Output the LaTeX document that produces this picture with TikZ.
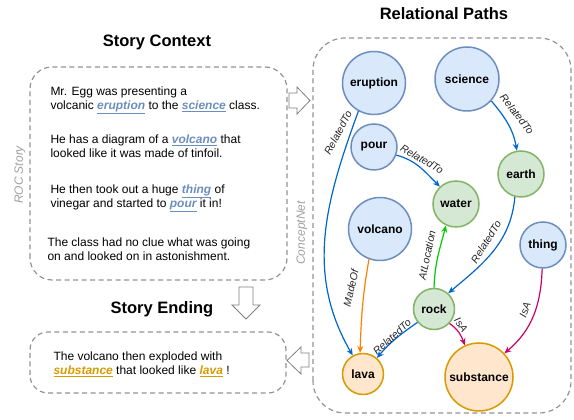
\documentclass[tikz,border=0pt]{standalone}
\usepackage{fontspec}
\setmainfont{Liberation Sans}
\usetikzlibrary{arrows.meta}

\definecolor{cblue}{HTML}{DAE8FC}
\definecolor{dblue}{HTML}{6C8EBF}
\definecolor{cgreen}{HTML}{D5E8D4}
\definecolor{dgreen}{HTML}{82B366}
\definecolor{corange}{HTML}{FFE6CC}
\definecolor{dorange}{HTML}{D79B00}
\definecolor{eblue}{HTML}{0066CC}
\definecolor{egreen}{HTML}{00CC00}
\definecolor{eorange}{HTML}{FF8000}
\definecolor{epink}{HTML}{CC0066}

\newcommand{\kwb}[1]{{\color{dblue}\bfseries\itshape\underline{#1}}}
\newcommand{\kwo}[1]{{\color{dorange}\bfseries\itshape\underline{#1}}}

\begin{document}
\begin{tikzpicture}[x=1pt, y=1pt, line width=1pt,
  box/.style={draw=gray!85, dash pattern=on 5pt off 3.5pt, line width=1.2pt},
  ttl/.style={font=\fontsize{16.5}{18}\selectfont\bfseries},
  txt/.style={anchor=north west, inner sep=0pt, align=left, font=\fontsize{12}{14}\selectfont},
  side/.style={rotate=90, text=gray!75, font=\fontsize{12}{14}\selectfont\itshape},
  blk/.style={draw=gray, fill=white, line width=0.8pt},
  cnode/.style={circle, line width=1.5pt, inner sep=0pt, font=\fontsize{12}{14}\selectfont\bfseries},
  bnode/.style={cnode, draw=dblue, fill=cblue},
  gnode/.style={cnode, draw=dgreen, fill=cgreen},
  onode/.style={cnode, draw=dorange, fill=corange},
  rel/.style={-{Stealth[length=7pt,width=6pt]}, line width=1.2pt},
  lbl/.style={font=\fontsize{10.5}{12}\selectfont\itshape, text=black!85, inner sep=1pt}]

\useasboundingbox (0,0) rectangle (574,420);

\node[ttl] (tctx) at (157,378) {Story Context};
\node[ttl] (tend) at (162,111) {Story Ending};
\node[ttl] (trel) at (444,406) {Relational Paths};

\draw[box, rounded corners=22] (30,140) rectangle (287,353);
\draw[box, rounded corners=18] (30,27) rectangle (286,88);
\draw[box, rounded corners=32] (313,7) rectangle (571,382);

\node[side] (roc) at (20,245) {ROC Story};
\node[side] (cnet) at (302,187) {ConceptNet};

\node[txt] (s1) at (50,334.8) {\strut Mr. Egg was presenting a\\volcanic \kwb{eruption} to the \kwb{science} class.};
\node[txt] (s2) at (50,286.8) {\strut He has a diagram of a \kwb{volcano} that\\looked like it was made of tinfoil.};
\node[txt] (s3) at (50,236.8) {\strut He then took out a huge \kwb{thing} of\\vinegar and started to \kwb{pour} it in!};
\node[txt] (s4) at (47,183.8) {\strut The class had no clue what was going\\on and looked on in astonishment.};
\node[txt] (s5) at (53,69.8) {\strut The volcano then exploded with\\\kwo{substance} that looked like \kwo{lava} !};

\draw[blk] (289,327) -- (297,327) -- (297,333) -- (310,319.5) -- (297,306) -- (297,312) -- (289,312) -- cycle;
\draw[blk] (309,67) -- (301,67) -- (301,73) -- (287,59.5) -- (301,46) -- (301,53) -- (309,53) -- cycle;
\draw[blk] (239,133) -- (253,133) -- (253,115) -- (260,115) -- (246,101) -- (232,115) -- (239,115) -- cycle;

\node[bnode, minimum size=63] (eruption) at (374,337) {eruption};
\node[bnode, minimum size=64] (science) at (467,341) {science};
\node[bnode, minimum size=46] (pour) at (374,273) {pour};
\node[gnode, minimum size=46] (earth) at (521,246) {earth};
\node[gnode, minimum size=46] (water) at (456,216) {water};
\node[bnode, minimum size=63] (volcano) at (380,191) {volcano};
\node[bnode, minimum size=46] (thing) at (543,175) {thing};
\node[gnode, minimum size=41] (rock) at (434,111) {rock};
\node[onode, minimum size=41] (lava) at (363,46) {lava};
\node[onode, minimum size=68] (substance) at (479,43) {substance};

\draw[rel, eblue] (eruption.241) to[out=250, in=120] (lava.119);
\draw[rel, eblue] (science.-42) to[out=-50, in=100] (earth.100);
\draw[rel, eblue] (pour.-20) to[out=-15, in=135] (water.133);
\draw[rel, eblue] (earth.255) to[out=265, in=40] (rock.48);
\draw[rel, egreen] (rock.90) to[out=88, in=255] (water.245);
\draw[rel, eorange] (volcano.250) to[out=260, in=88] (lava.98);
\draw[rel, eblue] (rock.219) to[out=215, in=50] (lava.49);
\draw[rel, epink] (rock.-43) to[out=-35, in=110] (substance.114);
\draw[rel, epink] (thing.268) to[out=268, in=40] (substance.43);

\node[lbl, rotate=62] (l1) at (338,287) {RelatedTo};
\node[lbl, rotate=-52] (l2) at (517,306) {RelatedTo};
\node[lbl, rotate=-30] (l3) at (422,261) {RelatedTo};
\node[lbl, rotate=58] (l4) at (486,178) {RelatedTo};
\node[lbl, rotate=78] (l5) at (427,165) {AtLocation};
\node[lbl, rotate=77] (l6) at (351,132) {MadeOf};
\node[lbl, rotate=43] (l7) at (392,83) {RelatedTo};
\node[lbl, rotate=-55] (l8) at (461,95) {IsA};
\node[lbl, rotate=70] (l9) at (525,110) {IsA};

\end{tikzpicture}
\end{document}
